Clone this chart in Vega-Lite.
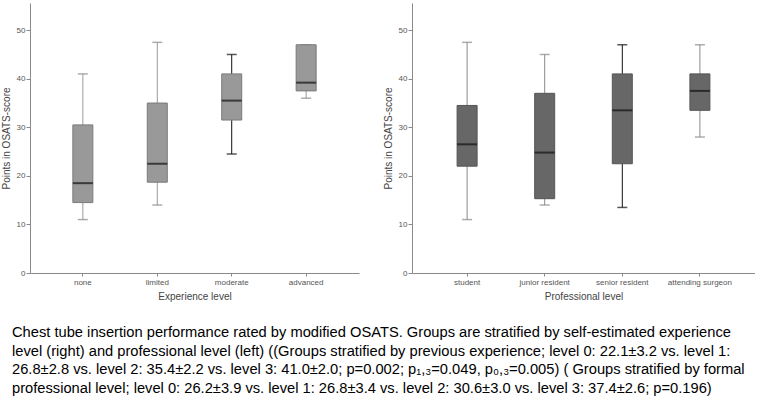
{
  "$schema": "https://vega.github.io/schema/vega-lite/v6.json",
  "padding": {"left": 1, "top": 3, "right": 0, "bottom": 0},
  "background": "white",
  "spacing": 53,
  "bounds": "flush",
  "config": {
    "view": {"stroke": null},
    "font": "Liberation Sans",
    "axis": {
      "grid": false,
      "domainColor": "#8a8a8a",
      "tickColor": "#8a8a8a",
      "labelColor": "#555555",
      "titleColor": "#444444",
      "labelFont": "Liberation Sans",
      "titleFont": "Liberation Sans",
      "labelFontSize": 8,
      "titleFontSize": 10,
      "titleFontWeight": "normal"
    }
  },
  "datasets": {
    "experience": [
      {"cat": "none", "min": 11, "q1": 14.5, "med": 18.5, "q3": 30.5, "max": 41},
      {"cat": "limited", "min": 14, "q1": 18.7, "med": 22.5, "q3": 35, "max": 47.5},
      {"cat": "moderate", "min": 24.5, "q1": 31.5, "med": 35.5, "q3": 41, "max": 45},
      {"cat": "advanced", "min": 36, "q1": 37.5, "med": 39.2, "q3": 47, "max": 47}
    ],
    "professional": [
      {"cat": "student", "min": 11, "q1": 22, "med": 26.5, "q3": 34.5, "max": 47.5},
      {"cat": "junior resident", "min": 14, "q1": 15.3, "med": 24.8, "q3": 37, "max": 45},
      {"cat": "senior resident", "min": 13.5, "q1": 22.5, "med": 33.5, "q3": 41, "max": 47},
      {"cat": "attending surgeon", "min": 28, "q1": 33.5, "med": 37.5, "q3": 41, "max": 47}
    ]
  },
  "title": {
    "text": [
      "Chest tube insertion performance rated by modified OSATS. Groups are stratified by self-estimated experience",
      "level (right) and professional level (left) ((Groups stratified by previous experience; level 0: 22.1±3.2 vs. level 1:",
      "26.8±2.8 vs. level 2: 35.4±2.2 vs. level 3: 41.0±2.0; p=0.002; p₁,₃=0.049, p₀,₃=0.005) ( Groups stratified by formal",
      "professional level; level 0: 26.2±3.9 vs. level 1: 26.8±3.4 vs. level 2: 30.6±3.0 vs. level 3: 37.4±2.6; p=0.196)"
    ],
    "orient": "bottom",
    "anchor": "start",
    "frame": "group",
    "font": "Liberation Sans",
    "fontSize": 14.7,
    "fontWeight": "normal",
    "lineHeight": 18.5,
    "color": "#000000",
    "dx": -18,
    "offset": 24
  },
  "hconcat": [
    {
      "width": 329,
      "height": 270,
      "data": {"name": "experience"},
      "encoding": {
        "x": {
          "field": "cat",
          "type": "nominal",
          "sort": null,
          "scale": {"paddingInner": 0, "paddingOuter": 0.21},
          "axis": {"title": "Experience level", "labelAngle": 0, "tickSize": 3, "labelPadding": 2, "titlePadding": 5}
        }
      },
      "layer": [
        {
          "mark": {"type": "rule", "strokeWidth": 1},
          "encoding": {
            "y": {
              "field": "min",
              "type": "quantitative",
              "scale": {"domain": [0, 55.6], "nice": false},
              "axis": {"title": "Points in OSATS-score", "values": [0, 10, 20, 30, 40, 50], "tickSize": 4, "labelPadding": 1, "titlePadding": 5}
            },
            "y2": {"field": "max"},
            "color": {"condition": {"test": "datum.cat === 'moderate'", "value": "#111111"}, "value": "#9a9a9a"}
          }
        },
        {
          "mark": {"type": "tick", "thickness": 1.5, "size": 10},
          "encoding": {
            "y": {"field": "min", "type": "quantitative"},
            "color": {"condition": {"test": "datum.cat === 'moderate'", "value": "#111111"}, "value": "#8a8a8a"}
          }
        },
        {
          "mark": {"type": "tick", "thickness": 1.5, "size": 10},
          "encoding": {
            "y": {"field": "max", "type": "quantitative"},
            "color": {"condition": {"test": "datum.cat === 'moderate'", "value": "#111111"}, "value": "#8a8a8a"}
          }
        },
        {
          "mark": {"type": "bar", "size": 20, "fill": "#999999", "stroke": "#7a7a7a", "strokeWidth": 1},
          "encoding": {
            "y": {"field": "q1", "type": "quantitative"},
            "y2": {"field": "q3"}
          }
        },
        {
          "mark": {"type": "tick", "thickness": 2, "size": 20, "color": "#111111"},
          "encoding": {
            "y": {"field": "med", "type": "quantitative"}
          }
        }
      ]
    },
    {
      "width": 343,
      "height": 270,
      "data": {"name": "professional"},
      "encoding": {
        "x": {
          "field": "cat",
          "type": "nominal",
          "sort": null,
          "scale": {"paddingInner": 0, "paddingOuter": 0.21},
          "axis": {"title": "Professional level", "labelAngle": 0, "tickSize": 3, "labelPadding": 2, "titlePadding": 5}
        }
      },
      "layer": [
        {
          "mark": {"type": "rule", "strokeWidth": 1},
          "encoding": {
            "y": {
              "field": "min",
              "type": "quantitative",
              "scale": {"domain": [0, 55.6], "nice": false},
              "axis": {"title": "Points in OSATS-score", "values": [0, 10, 20, 30, 40, 50], "tickSize": 4, "labelPadding": 1, "titlePadding": 5}
            },
            "y2": {"field": "max"},
            "color": {"condition": {"test": "datum.cat === 'senior resident'", "value": "#111111"}, "value": "#8a8a8a"}
          }
        },
        {
          "mark": {"type": "tick", "thickness": 1.5, "size": 10},
          "encoding": {
            "y": {"field": "min", "type": "quantitative"},
            "color": {"condition": {"test": "datum.cat === 'senior resident'", "value": "#111111"}, "value": "#8a8a8a"}
          }
        },
        {
          "mark": {"type": "tick", "thickness": 1.5, "size": 10},
          "encoding": {
            "y": {"field": "max", "type": "quantitative"},
            "color": {"condition": {"test": "datum.cat === 'senior resident'", "value": "#111111"}, "value": "#8a8a8a"}
          }
        },
        {
          "mark": {"type": "bar", "size": 20, "fill": "#676767", "stroke": "#555555", "strokeWidth": 1},
          "encoding": {
            "y": {"field": "q1", "type": "quantitative"},
            "y2": {"field": "q3"}
          }
        },
        {
          "mark": {"type": "tick", "thickness": 2, "size": 20, "color": "#111111"},
          "encoding": {
            "y": {"field": "med", "type": "quantitative"}
          }
        }
      ]
    }
  ]
}
